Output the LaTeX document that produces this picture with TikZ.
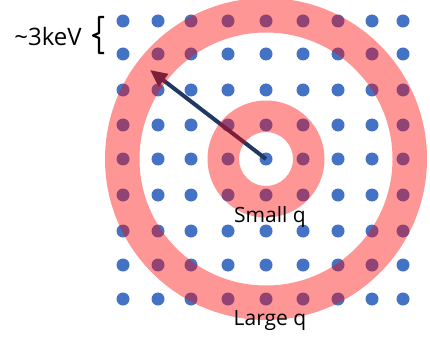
\documentclass[tikz,border=0pt]{standalone}
\usepackage{fontspec}
\setmainfont{Open Sans}
\usepackage{xcolor}
\usepackage{tikz}
\usetikzlibrary{arrows.meta}

\definecolor{dotblue}{HTML}{4472C4}
\definecolor{arrownavy}{HTML}{203864}

\begin{document}
\begin{tikzpicture}[x=1pt,y=-1pt,
    dot/.style={circle,fill=dotblue,inner sep=0pt,minimum size=13pt},
    ring/.style={fill=red,fill opacity=0.41,even odd rule},
    lbl/.style={font=\fontsize{21}{24}\selectfont,anchor=base,inner sep=0pt}]
    \useasboundingbox (0,0) rectangle (430,339);
    % lattice of points
    \foreach \x [count=\i] in {123,158,191,228,266,303,338,372,403}
      \foreach \y [count=\j] in {21,54,90,125,159,195,231,265,299}
        \node[dot] (d-\i-\j) at (\x,\y) {};
    % momentum transfer
    \coordinate (tip) at (150,70);
    \draw[arrownavy,line width=4pt,-{Triangle[length=17pt,width=15pt]}] (d-5-5.center) -- (tip);
    % rings
    \fill[ring] (d-5-5.center) circle (161pt) circle (126.5pt);
    \fill[ring] (d-5-5.center) circle (58.5pt) circle (27pt);
    \node[lbl] (small) at (270,222) {Small q};
    \node[lbl] (large) at (270,325) {Large q};
    % spacing
    \draw[line width=2.2pt,line join=round] (104,17) -- (99,17) -- (99,33) -- (93,35.5) -- (99,38) -- (99,53) -- (104,53);
    \node[lbl,font=\fontsize{24}{28}\selectfont] (kev) at (48,46) {\textasciitilde3keV};
  \end{tikzpicture}
\end{document}
